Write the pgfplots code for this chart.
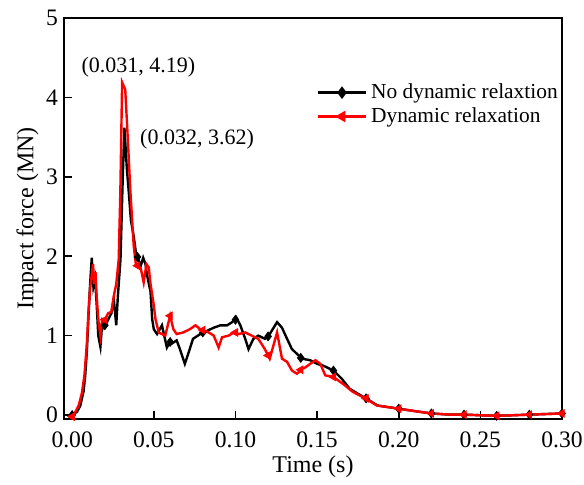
\documentclass[border=0pt]{standalone}
\usepackage{pgfplots}
\pgfplotsset{compat=1.18}
\usepackage{fontspec}
\setmainfont{Liberation Serif}
\begin{document}
\begin{tikzpicture}
\begin{axis}[
  scale only axis, width=249pt, height=200.5pt,
  xmin=-0.005, xmax=0.30, ymin=-0.05, ymax=5,
  xtick={0,0.05,...,0.30}, ytick={0,1,...,5},
  xticklabel style={yshift=-3pt, /pgf/number format/fixed, /pgf/number format/fixed zerofill, /pgf/number format/precision=2},
  /pgf/number format/assume math mode=true,
  tick align=inside, xtick pos=bottom, ytick pos=left,
  major tick length=4pt, tick style={black, line width=0.8pt},
  axis line style={line width=0.9pt},
  ticklabel style={font=\fontsize{11.8}{12}\selectfont},
  yticklabel style={xshift=0.5pt},
  label style={font=\fontsize{12}{14}\selectfont},
  xlabel={Time (s)}, ylabel={Impact force (MN)},
  xlabel shift=-3pt, ylabel shift=-3pt,
  legend image code/.code={\draw[mark repeat=2,mark phase=2,#1] plot coordinates {(0cm,0cm) (0.42cm,0cm) (0.84cm,0cm)};},
  legend style={at={(0.495,0.857)}, anchor=north west, draw=none, fill=none,
    font=\fontsize{10.7}{12}\selectfont, row sep=-1pt},
  legend cell align=left,
  clip=false,
]
\addlegendimage{black, line width=1.2pt, mark=diamond*, mark size=2.2pt}
\addlegendentry{No dynamic relaxtion}
\addlegendimage{red, line width=1.2pt, mark=triangle*, mark size=2.2pt, mark options={rotate=90}}
\addlegendentry{Dynamic relaxation}
\addplot[black, line width=1.2pt, forget plot] coordinates {
(0,0) (0.003,0.04) (0.005,0.12) (0.007,0.3) (0.008,0.5) (0.009,0.8) (0.010,1.25) (0.011,1.65) (0.012,1.98) (0.013,1.62) (0.014,1.72) (0.015,1.4) (0.016,1.0) (0.0173,0.86) (0.018,1.05) (0.019,1.12) (0.0204,1.13) (0.022,1.2) (0.024,1.28) (0.0255,1.46) (0.027,1.13) (0.028,1.5) (0.0296,1.96) (0.031,3.0) (0.032,3.62) (0.0335,3.1) (0.0347,2.8) (0.036,2.45) (0.0377,2.25) (0.039,2.05) (0.040,1.99) (0.042,1.88) (0.0435,1.98) (0.0449,1.90) (0.046,1.75) (0.048,1.55) (0.049,1.21) (0.050,1.08) (0.052,1.02) (0.055,1.13) (0.058,0.85) (0.060,0.92) (0.061,0.90) (0.064,0.94) (0.066,0.83) (0.069,0.645) (0.072,0.83) (0.074,0.96) (0.0785,1.02) (0.0826,1.06) (0.0867,1.10) (0.0908,1.13) (0.0949,1.13) (0.098,1.17) (0.1005,1.23) (0.103,1.13) (0.106,0.96) (0.108,0.83) (0.111,0.96) (0.114,1.0) (0.118,0.96) (0.121,1.02) (0.1255,1.17) (0.1285,1.10) (0.1316,0.96) (0.1346,0.83) (0.1377,0.77) (0.1408,0.71) (0.1458,0.69) (0.15,0.645) (0.154,0.62) (0.160,0.56) (0.165,0.46) (0.170,0.33) (0.1765,0.25) (0.18,0.21) (0.187,0.12) (0.20,0.08) (0.211,0.046) (0.22,0.02) (0.2315,0.005) (0.24,0.005) (0.26,-0.01) (0.28,0.005) (0.30,0.02)
};
\addplot[black, only marks, mark=diamond*, mark size=2.2pt, forget plot] coordinates {
(0,0) (0.02,1.13) (0.04,1.99) (0.06,0.92) (0.08,1.04) (0.10,1.2) (0.12,0.99) (0.14,0.72) (0.16,0.56) (0.18,0.21) (0.20,0.08) (0.22,0.02) (0.24,0.005) (0.26,-0.01) (0.28,0.005) (0.30,0.02)
};
\addplot[red, line width=1.2pt, forget plot] coordinates {
(0,-0.02) (0.002,0.04) (0.004,0.12) (0.006,0.28) (0.0075,0.5) (0.009,0.9) (0.010,1.3) (0.011,1.6) (0.0128,1.9) (0.0135,1.65) (0.0143,1.80) (0.015,1.5) (0.016,1.2) (0.0173,1.0) (0.0184,1.21) (0.020,1.2) (0.022,1.28) (0.024,1.3) (0.0255,1.5) (0.027,1.65) (0.0285,1.96) (0.0295,2.8) (0.0306,4.19) (0.0325,4.1) (0.0337,3.63) (0.0357,2.8) (0.0377,2.13) (0.039,1.9) (0.040,1.88) (0.042,1.85) (0.0438,1.67) (0.0455,1.9) (0.0469,1.86) (0.048,1.65) (0.050,1.38) (0.051,1.21) (0.053,1.04) (0.057,1.0) (0.060,1.25) (0.062,1.08) (0.064,1.02) (0.068,1.04) (0.072,1.08) (0.0755,1.13) (0.0785,1.08) (0.0836,1.04) (0.0867,1.0) (0.0897,0.85) (0.0918,0.98) (0.0958,1.0) (0.099,1.04) (0.102,1.02) (0.106,1.04) (0.110,1.0) (0.114,0.96) (0.118,0.83) (0.121,0.71) (0.1255,1.04) (0.1285,0.71) (0.1316,0.67) (0.1346,0.56) (0.1377,0.52) (0.1408,0.58) (0.1428,0.60) (0.1458,0.645) (0.149,0.69) (0.152,0.645) (0.155,0.50) (0.160,0.48) (0.166,0.39) (0.172,0.29) (0.1795,0.21) (0.1866,0.12) (0.20,0.08) (0.211,0.046) (0.22,0.02) (0.2315,0.005) (0.24,0.005) (0.26,-0.01) (0.28,0.005) (0.30,0.02)
};
\addplot[red, only marks, mark=triangle*, mark size=2.2pt, mark options={rotate=90}, forget plot] coordinates {
(0,-0.02) (0.02,1.2) (0.04,1.88) (0.06,1.25) (0.08,1.07) (0.10,1.04) (0.12,0.75) (0.14,0.57) (0.16,0.48) (0.18,0.21) (0.20,0.08) (0.22,0.02) (0.24,0.005) (0.26,-0.01) (0.28,0.005) (0.30,0.02)
};
\node[font=\fontsize{11}{12}\selectfont] at (axis cs:0.0406,4.38) {(0.031, 4.19)};
\node[font=\fontsize{11}{12}\selectfont] at (axis cs:0.0765,3.47) {(0.032, 3.62)};
\end{axis}
\pgfresetboundingbox
\path (-32pt,-32.5pt) rectangle (260pt,209.5pt);
\end{tikzpicture}
\end{document}
